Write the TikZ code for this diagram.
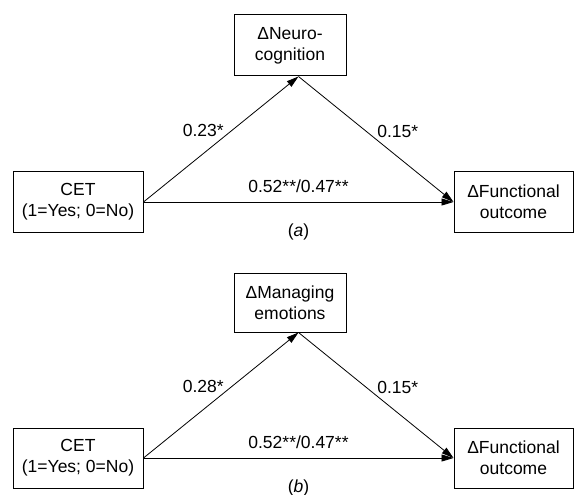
\documentclass[tikz,border=0pt]{standalone}
\usepackage{fontspec}
\setmainfont{Liberation Sans}
\usetikzlibrary{arrows.meta}

\tikzset{
  varbox/.style={draw, line width=1pt, align=center, inner sep=0pt, minimum height=60pt},
  link/.style={-{Triangle[length=12pt,width=7pt]}, line width=0.8pt}
}

\begin{document}
\begin{tikzpicture}[x=1pt, y=-1pt, font=\fontsize{17.5}{21}\selectfont]
\useasboundingbox (0,0) rectangle (574,495);
% Panel (a): neurocognition as mediator
\node[varbox, minimum width=130pt] (ceta) at (78,202) {CET\\(1=Yes; 0=No)};
\node[varbox, minimum width=112pt, minimum height=61pt] (neuro) at (290,45.5) {ΔNeuro-\\cognition};
\node[varbox, minimum width=119pt] (funca) at (513.5,202) {ΔFunctional\\outcome};
\path (ceta.east) -- (funca.west) coordinate[midway] (mida);
\coordinate (apexa) at (mida |- neuro.south);
\draw[link] (ceta.east) -- node[pos=0.52, above left, inner sep=0pt] {0.23*} (apexa);
\draw[link] (apexa) -- node[pos=0.5, above right, inner sep=1pt] {0.15*} (funca.west);
\draw[link] (ceta.east) -- node[above=9pt, inner sep=0pt] {0.52**/0.47**} (funca.west);
\node (capa) at (298.5,232) {(\textit{a})};
% Panel (b): managing emotions as mediator
\node[varbox, minimum width=130pt] (cetb) at (78,458) {CET\\(1=Yes; 0=No)};
\node[varbox, minimum width=112pt, minimum height=59pt] (emot) at (290,302.5) {ΔManaging\\emotions};
\node[varbox, minimum width=119pt] (funcb) at (513.5,458) {ΔFunctional\\outcome};
\path (cetb.east) -- (funcb.west) coordinate[midway] (midb);
\coordinate (apexb) at (midb |- emot.south);
\draw[link] (cetb.east) -- node[pos=0.52, above left, inner sep=0pt] {0.28*} (apexb);
\draw[link] (apexb) -- node[pos=0.5, above right, inner sep=1pt] {0.15*} (funcb.west);
\draw[link] (cetb.east) -- node[above=9pt, inner sep=0pt] {0.52**/0.47**} (funcb.west);
\node (capb) at (298.5,488) {(\textit{b})};
\end{tikzpicture}
\end{document}
